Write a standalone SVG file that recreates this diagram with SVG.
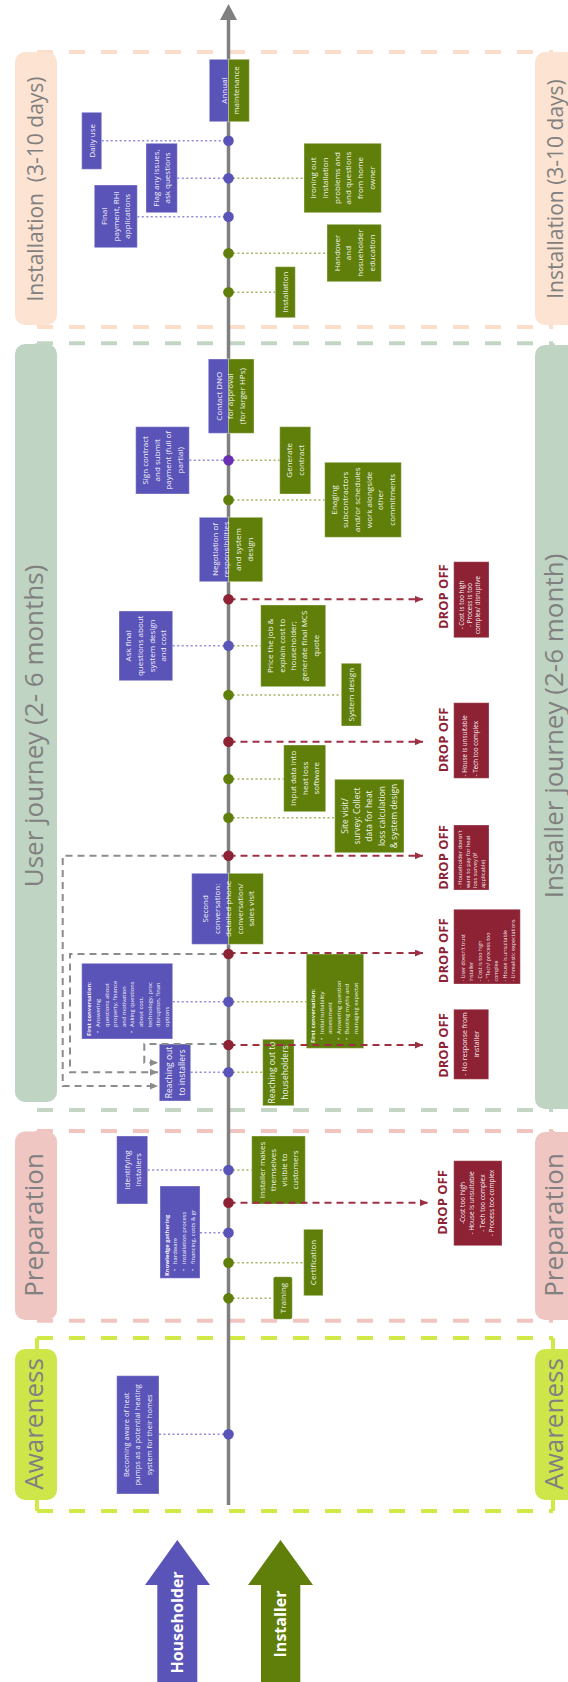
<svg xmlns="http://www.w3.org/2000/svg" width="568" height="1682" viewBox="0 0 568 1682">
<style>
.hh{fill:#5B54B8;stroke:#fff;stroke-opacity:.35;stroke-width:1}
.in{fill:#5F7F0A;stroke:#fff;stroke-opacity:.35;stroke-width:1}
.dr{fill:#8C2234;stroke:#fff;stroke-opacity:.3;stroke-width:1}
text{font-family:'Open Sans','Noto Sans','Liberation Sans',sans-serif}
.t{font-size:8px;fill:#fff;fill-opacity:.95;text-anchor:middle}
.t85{font-size:8.5px}
.s{font-size:5.8px;fill:#fff;fill-opacity:.95;text-anchor:start}
.b{font-weight:700}
.dt{fill:#fff;fill-opacity:.95}
.lab{font-size:26px;fill:#808080;text-anchor:middle}
.do{font-size:13px;font-weight:700;fill:#8C2234;text-anchor:middle}
.big{font-size:16px;font-weight:700;fill:#fff;text-anchor:middle}
.pd{fill:none;stroke:#8F8BDA;stroke-width:1.5;stroke-dasharray:2 2.5}
.gd{fill:none;stroke:#A3B763;stroke-width:1.5;stroke-dasharray:2 2.5}
.rd{fill:none;stroke:#9E3043;stroke-width:2;stroke-dasharray:7 5;marker-end:url(#ar)}
.gy{fill:none;stroke:#8C8C8C;stroke-width:2;stroke-dasharray:7 5;marker-end:url(#ag)}
.sd{fill:none;stroke-width:4;stroke-dasharray:16 16}
</style>
<defs>
<marker id="ar" viewBox="0 0 8 7" refX="8" refY="3.5" markerWidth="8" markerHeight="7" markerUnits="userSpaceOnUse" orient="auto"><path d="M0,0L8,3.5L0,7z" fill="#9E3043"/></marker>
<marker id="ag" viewBox="0 0 8 7" refX="8" refY="3.5" markerWidth="8" markerHeight="7" markerUnits="userSpaceOnUse" orient="auto"><path d="M0,0L8,3.5L0,7z" fill="#8C8C8C"/></marker>
</defs>
<rect width="568" height="1682" fill="#fff"/>

<g id="stages">
<g id="stage-installation">
<path class="sd" stroke="#FCDCCA" d="M37,52H553M37,327H553M37,52V327M553,52V327"/>
<rect x="15" y="52" width="42" height="273" rx="10" fill="#FDE3D2"/>
<rect x="535" y="52" width="42" height="273" rx="10" fill="#FDE3D2"/>
<text class="lab" style="font-size:21px;white-space:pre" transform="rotate(-90)" x="-189" y="43">Installation  (3-10 days)</text>
<text class="lab" style="font-size:21px" transform="rotate(-90)" x="-189" y="563">Installation (3-10 days)</text>
</g>
<g id="stage-journey">
<path class="sd" stroke="#C3D6C6" d="M37,343.3H553M37,1110H553M37,343.3V1110M553,343.3V1110"/>
<rect x="15" y="344" width="42" height="758" rx="10" fill="#BFD4C2"/>
<rect x="535" y="345" width="42" height="764" rx="10" fill="#BFD4C2"/>
<text class="lab" transform="rotate(-90)" x="-726" y="43">User journey (2- 6 months)</text>
<text class="lab" transform="rotate(-90)" x="-726" y="563">Installer journey (2-6 month)</text>
</g>
<g id="stage-preparation">
<path class="sd" stroke="#F2C4C0" d="M37,1131H553M37,1320.7H553M37,1131V1320.7M553,1131V1320.7"/>
<rect x="15" y="1131.5" width="42" height="188.5" rx="10" fill="#EFC6C2"/>
<rect x="535" y="1132" width="42" height="188" rx="10" fill="#EFC6C2"/>
<text class="lab" transform="rotate(-90)" x="-1225" y="43">Preparation</text>
<text class="lab" transform="rotate(-90)" x="-1225" y="563">Preparation</text>
</g>
<g id="stage-awareness">
<path class="sd" stroke="#D1E845" d="M37,1338H553M37,1511H553M37,1338V1511M553,1338V1511"/>
<rect x="15" y="1349" width="42" height="151" rx="10" fill="#CFE64A"/>
<rect x="535" y="1349" width="42" height="151" rx="10" fill="#CFE64A"/>
<text class="lab" transform="rotate(-90)" x="-1424" y="43">Awareness</text>
<text class="lab" transform="rotate(-90)" x="-1424" y="563">Awareness</text>
</g>
</g>

<g id="timeline">
<line x1="228.5" y1="19" x2="228.5" y2="1505" stroke="#808080" stroke-width="3.5"/>
<polygon points="228.5,4 237,20 220,20" fill="#808080"/>
</g>

<g id="nodes">
<g id="n-annual-maintenance">
<rect class="hh" x="209.3" y="59.3" width="19.2" height="62.4"/>
<rect class="in" x="228.5" y="59.3" width="20.8" height="62.4"/>
<text class="t" transform="rotate(-90)"><tspan x="-90.5" y="226.5">Annual</tspan><tspan x="-90.5" y="239">maintenance</tspan></text>
</g>
<g id="n-daily-use">
<rect class="hh" x="81.7" y="112.3" width="20" height="57"/>
<text class="t" transform="rotate(-90)"><tspan x="-140.8" y="94.5">Daily use</tspan></text>
</g>
<g id="n-flag-issues">
<rect class="hh" x="146" y="143.3" width="31.3" height="69.4"/>
<text class="t" transform="rotate(-90)"><tspan x="-178" y="158.6">Flag any issues,</tspan><tspan x="-178" y="170.3">ask questions</tspan></text>
</g>
<g id="n-final-payment">
<rect class="hh" x="94.3" y="185" width="43" height="62.7"/>
<text class="t" transform="rotate(-90)"><tspan x="-216.3" y="106.9">Final</tspan><tspan x="-216.3" y="118.6">payment, RHI</tspan><tspan x="-216.3" y="130.3">applications</tspan></text>
</g>
<g id="n-ironing-out">
<rect class="in" x="304" y="143.3" width="77.3" height="69.4"/>
<text class="t" transform="rotate(-90)"><tspan x="-178" y="316.3">Ironing out</tspan><tspan x="-178" y="328">installation</tspan><tspan x="-178" y="339.7">problems and</tspan><tspan x="-178" y="351.4">and questions</tspan><tspan x="-178" y="363.1">from home</tspan><tspan x="-178" y="374.8">owner</tspan></text>
</g>
<g id="n-handover">
<rect class="in" x="327" y="224.3" width="54.3" height="57.4"/>
<text class="t" transform="rotate(-90)"><tspan x="-253" y="339.5">Handover</tspan><tspan x="-253" y="351.2">and</tspan><tspan x="-253" y="362.9">hosueholder</tspan><tspan x="-253" y="374.6">education</tspan></text>
</g>
<g id="n-installation">
<rect class="in" x="275.3" y="266.7" width="20" height="51"/>
<text class="t" transform="rotate(-90)"><tspan x="-292.2" y="288.1">Installation</tspan></text>
</g>
<g id="n-contact-dno">
<rect class="hh" x="208.3" y="359" width="20.2" height="74.3"/>
<rect class="in" x="228.5" y="359" width="25.5" height="74.3"/>
<text class="t" transform="rotate(-90)"><tspan x="-396.2" y="221.5">Contact DNO</tspan><tspan x="-396.2" y="233.2">for approval</tspan><tspan x="-396.2" y="244.9">(for larger HPs)</tspan></text>
</g>
<g id="n-sign-contract">
<rect class="hh" x="135.7" y="426.7" width="53.6" height="67.3"/>
<text class="t" transform="rotate(-90)"><tspan x="-460.3" y="147.8">Sign contract</tspan><tspan x="-460.3" y="159.5">and submit</tspan><tspan x="-460.3" y="171.2">payment (full of</tspan><tspan x="-460.3" y="182.9">partial)</tspan></text>
</g>
<g id="n-generate-contract">
<rect class="in" x="279.7" y="426.7" width="31" height="67.3"/>
<text class="t" transform="rotate(-90)"><tspan x="-460.3" y="292.2">Generate</tspan><tspan x="-460.3" y="303.9">contract</tspan></text>
</g>
<g id="n-engaging">
<rect class="in" x="324.7" y="462.3" width="76.6" height="75"/>
<text class="t" transform="rotate(-90)"><tspan x="-499.8" y="336.6">Enaging</tspan><tspan x="-499.8" y="348.3">subcontractors</tspan><tspan x="-499.8" y="360">and/or schedules</tspan><tspan x="-499.8" y="371.7">work alongside</tspan><tspan x="-499.8" y="383.4">other</tspan><tspan x="-499.8" y="395.1">commitments</tspan></text>
</g>
<g id="n-negotiation">
<rect class="hh" x="199.3" y="517.3" width="29.2" height="64.4"/>
<rect class="in" x="228.5" y="517.3" width="34.2" height="64.4"/>
<text class="t" transform="rotate(-90)"><tspan x="-549.5" y="217.5">Negotiation of</tspan><tspan x="-549.5" y="229.3">responsibilities</tspan><tspan x="-549.5" y="241.1">and system</tspan><tspan x="-549.5" y="252.9">design</tspan></text>
</g>
<g id="n-ask-final">
<rect class="hh" x="119" y="611" width="53.7" height="69.7"/>
<text class="t" transform="rotate(-90)"><tspan x="-645.8" y="131.1">Ask final</tspan><tspan x="-645.8" y="142.8">questions about</tspan><tspan x="-645.8" y="154.5">system design</tspan><tspan x="-645.8" y="166.2">and cost</tspan></text>
</g>
<g id="n-price-job">
<rect class="in" x="260.7" y="605" width="65" height="81.7"/>
<text class="t" transform="rotate(-90)"><tspan x="-645.8" y="273.4">Price the job &amp;</tspan><tspan x="-645.8" y="284.7">explain cost to</tspan><tspan x="-645.8" y="296">householder;</tspan><tspan x="-645.8" y="307.3">generate final MCS</tspan><tspan x="-645.8" y="318.6">quote</tspan></text>
</g>
<g id="n-system-design">
<rect class="in" x="341.3" y="663.3" width="20" height="62.7"/>
<text class="t" transform="rotate(-90)"><tspan x="-694.7" y="354.1">System design</tspan></text>
</g>
<g id="n-input-data">
<rect class="in" x="283.7" y="745" width="42" height="66.7"/>
<text class="t" transform="rotate(-90)"><tspan x="-778.3" y="295.8">Input data into</tspan><tspan x="-778.3" y="307.5">heat loss</tspan><tspan x="-778.3" y="319.2">software</tspan></text>
</g>
<g id="n-site-visit">
<rect class="in" x="334.7" y="779.3" width="69.3" height="73.4"/>
<text class="t t85" transform="rotate(-90)"><tspan x="-816" y="347.7">Site visit/</tspan><tspan x="-816" y="360">survey: Collect</tspan><tspan x="-816" y="372.3">data for heat</tspan><tspan x="-816" y="384.6">loss calculation</tspan><tspan x="-816" y="396.9">&amp; system design</tspan></text>
</g>
<g id="n-second-conversation">
<rect class="hh" x="191.7" y="873.3" width="36.8" height="71"/>
<rect class="in" x="228.5" y="873.3" width="34.8" height="71"/>
<text class="t" transform="rotate(-90)"><tspan x="-908.8" y="207.8">Second</tspan><tspan x="-908.8" y="219.5">conversation:</tspan><tspan x="-908.8" y="231.1">detailed phone</tspan><tspan x="-908.8" y="242.6">conversation/</tspan><tspan x="-908.8" y="254.3">sales visit</tspan></text>
</g>
<g id="n-first-conversation-householder">
<rect class="hh" x="81.7" y="963.3" width="91" height="75.7"/>
<text class="s" transform="rotate(-90)"><tspan class="b" x="-1036" y="91.3">First conversation:</tspan><tspan x="-1033" y="99.9">•</tspan><tspan x="-1027" y="99.9">Answering</tspan><tspan x="-1027" y="108.5">questions about</tspan><tspan x="-1027" y="117.1">property, finance</tspan><tspan x="-1027" y="125.7">and motivation</tspan><tspan x="-1033" y="134.3">•</tspan><tspan x="-1027" y="134.3">Asking questions</tspan><tspan x="-1027" y="142.9">about cost,</tspan><tspan x="-1027" y="151.5">technology, proc</tspan><tspan x="-1027" y="160.1">disruption, finan</tspan><tspan x="-1027" y="168.7">options</tspan></text>
</g>
<g id="n-first-conversation-installer">
<rect class="in" x="306.3" y="954" width="57.4" height="94.3"/>
<text class="s" transform="rotate(-90)"><tspan class="b" x="-1043" y="315">First conversation:</tspan><tspan x="-1040" y="323.6">•</tspan><tspan x="-1034" y="323.6">Initial suitability</tspan><tspan x="-1034" y="332.2">assessment</tspan><tspan x="-1040" y="340.8">•</tspan><tspan x="-1034" y="340.8">Answering question</tspan><tspan x="-1040" y="349.4">•</tspan><tspan x="-1034" y="349.4">Busting myths and</tspan><tspan x="-1034" y="358">managing expectat</tspan></text>
</g>
<g id="n-reaching-installers">
<rect class="hh" x="159.3" y="1044" width="31.4" height="57"/>
<text class="t t85" transform="rotate(-90)"><tspan x="-1072.5" y="171.5">Reaching out</tspan><tspan x="-1072.5" y="184.5">to installers</tspan></text>
</g>
<g id="n-reaching-householders">
<rect class="in" x="262.7" y="1039.3" width="31.3" height="66.4"/>
<text class="t t85" transform="rotate(-90)"><tspan x="-1072.5" y="274.8">Reaching out to</tspan><tspan x="-1072.5" y="287.8">householders</tspan></text>
</g>
<g id="n-identifying-installers">
<rect class="hh" x="116.7" y="1136" width="31" height="68"/>
<text class="t" transform="rotate(-90)"><tspan x="-1170" y="129.5">Identifying</tspan><tspan x="-1170" y="140.5">installers</tspan></text>
</g>
<g id="n-installer-visible">
<rect class="in" x="251.7" y="1136" width="53.6" height="68"/>
<text class="t" transform="rotate(-90)"><tspan x="-1170" y="264.5">Installer makes</tspan><tspan x="-1170" y="275.7">themselves</tspan><tspan x="-1170" y="286.9">visible to</tspan><tspan x="-1170" y="298.1">customers</tspan></text>
</g>
<g id="n-knowledge-gathering">
<rect class="hh" x="160" y="1186" width="40" height="92.3"/>
<text class="s" transform="rotate(-90)"><tspan class="b" x="-1276" y="168.7">Knowledge gathering</tspan><tspan x="-1271" y="177.3">•</tspan><tspan x="-1264" y="177.3">hardware</tspan><tspan x="-1271" y="185.9">•</tspan><tspan x="-1264" y="185.9">installation process</tspan><tspan x="-1271" y="194.5">•</tspan><tspan x="-1264" y="194.5">financing, costs &amp; gr</tspan></text>
</g>
<g id="n-certification">
<rect class="in" x="303.7" y="1229.3" width="19.3" height="66.4"/>
<text class="t" transform="rotate(-90)"><tspan x="-1262.5" y="316.1">Certification</tspan></text>
</g>
<g id="n-training">
<rect class="in" x="273.3" y="1276.7" width="19" height="42.6" rx="2"/>
<text class="t" transform="rotate(-90)"><tspan x="-1298" y="285.6">Training</tspan></text>
</g>
<g id="n-becoming-aware">
<rect class="hh" x="116.7" y="1375.7" width="42.3" height="118.3"/>
<text class="t" style="font-size:7.5px" transform="rotate(-90)"><tspan x="-1434.8" y="128.7">Becoming aware of heat</tspan><tspan x="-1434.8" y="140.4">pumps as a potential heating</tspan><tspan x="-1434.8" y="152.1">system for their homes</tspan></text>
</g>

<g id="d1">
<text class="do" transform="rotate(-90)" x="-596.7" y="448">DROP OFF</text>
<rect class="dr" x="453.7" y="561.7" width="35.3" height="76"/>
<text class="t" style="font-size:6.3px" transform="rotate(-90)"><tspan x="-605" y="463.5">- Cost is too high</tspan><tspan x="-605" y="471.8">- Process is too</tspan><tspan x="-605" y="480.1">complex/ disruptive</tspan></text>
</g>
<g id="d2">
<text class="do" transform="rotate(-90)" x="-740" y="448">DROP OFF</text>
<rect class="dr" x="453.7" y="702.7" width="35.3" height="75.6"/>
<text class="s" style="font-size:6.3px" transform="rotate(-90)"><tspan x="-776.5" y="466.7">- House is unsuitable</tspan><tspan x="-776.5" y="478.3">- Tech too complex</tspan></text>
</g>
<g id="d3">
<text class="do" transform="rotate(-90)" x="-857.5" y="448">DROP OFF</text>
<rect class="dr" x="453.7" y="825" width="35.3" height="65"/>
<text class="s" style="font-size:5.6px" transform="rotate(-90)"><tspan x="-888" y="461.7">- Householder doesn't</tspan><tspan x="-888" y="469.5">want to pay for heat</tspan><tspan x="-888" y="477.3">loss survey (if</tspan><tspan x="-888" y="485">applicable)</tspan></text>
</g>
<g id="d4">
<text class="do" transform="rotate(-90)" x="-950.8" y="448">DROP OFF</text>
<rect class="dr" x="453.7" y="909.3" width="66.6" height="74.7"/>
<text class="s" style="font-size:5.3px" transform="rotate(-90)"><tspan x="-981.5" y="465">- User doesn't trust</tspan><tspan x="-981.5" y="473.3">installer</tspan><tspan x="-981.5" y="481.6">- Cost is too high</tspan><tspan x="-981.5" y="489.9">- "Tech/ process too</tspan><tspan x="-981.5" y="498.2">complex</tspan><tspan x="-981.5" y="506.5">- House is unsuitable</tspan><tspan x="-981.5" y="514.8">- Unrealistic expectations</tspan></text>
</g>
<g id="d5">
<text class="do" transform="rotate(-90)" x="-1045.5" y="448">DROP OFF</text>
<rect class="dr" x="453.7" y="1009.3" width="35" height="70"/>
<text class="t" style="font-size:7px" transform="rotate(-90)"><tspan x="-1044" y="467">- No response from</tspan><tspan x="-1044" y="478.6">installer</tspan></text>
</g>
<g id="d6">
<text class="do" transform="rotate(-90)" x="-1202.5" y="447">DROP OFF</text>
<rect class="dr" x="453.7" y="1160.7" width="48.3" height="85"/>
<text class="t" style="font-size:6.5px" transform="rotate(-90)"><tspan x="-1203" y="465.2">-Cost too high</tspan><tspan x="-1203" y="474.2">- House is unsuitable</tspan><tspan x="-1203" y="485.2">- Tech too complex</tspan><tspan x="-1203" y="494.2">- Process too complex</tspan></text>
</g>

<g id="n-householder-arrow">
<polygon points="177.3,1540 210,1585 197.3,1585 197.3,1682 157.3,1682 157.3,1585 145,1585" fill="#5B54B8"/>
<text class="big" transform="rotate(-90)" x="-1622.5" y="183">Householder</text>
</g>
<g id="n-installer-arrow">
<polygon points="280.5,1540 313,1585 300.3,1585 300.3,1682 261,1682 261,1585 248,1585" fill="#5F7F0A"/>
<text class="big" transform="rotate(-90)" x="-1624" y="286">Installer</text>
</g>
</g>

<g id="connectors">
<path class="pd" d="M101.7,140.7H228.5M177.3,178.3H228.5M137.3,216.7H228.5M189.3,460.3H228.5M172.7,645.7H228.5M172.7,1001.7H228.5M190.7,1072.3H228.5M147.7,1170H228.5M200,1232.7H228.5M159,1434.3H228.5"/>
<path class="gd" d="M228.5,178.3H304M228.5,253.3H327M228.5,292.3H275.3M228.5,460.3H279.7M228.5,500H324.7M228.5,645.7H260.7M228.5,695H341.3M228.5,779H283.7M228.5,817.7H334.7M228.5,1001.7H306.3M228.5,1072.3H262.7M228.5,1170H251.7M228.5,1262.7H303.7M228.5,1298.3H273.3"/>
<path class="rd" d="M228.5,599.3H423"/>
<path class="rd" d="M228.5,741.7H423"/>
<path class="rd" d="M228.5,855.7H423"/>
<path class="rd" d="M228.5,953H423"/>
<path class="rd" d="M228.5,1045H423"/>
<path class="rd" d="M228.5,1202.7H428"/>
<path class="gy" d="M228.5,855.7H62.7V1086H158"/>
<path class="gy" d="M228.5,954H70V1072.3H158"/>
<path class="gy" d="M228.5,1044H144.3V1062.7H158"/>
<g id="dots">
<circle cx="228.5" cy="140.7" r="5.3" fill="#5B54B8"/>
<circle cx="228.5" cy="178.3" r="5.3" fill="#5B54B8"/>
<circle cx="228.5" cy="216.7" r="5.3" fill="#5B54B8"/>
<circle cx="228.5" cy="253.3" r="5.3" fill="#5F7F0A"/>
<circle cx="228.5" cy="292.3" r="5.3" fill="#5F7F0A"/>
<circle cx="228.5" cy="460.3" r="5.3" fill="#6A2FB2"/>
<circle cx="228.5" cy="500" r="5.3" fill="#5F7F0A"/>
<circle cx="228.5" cy="599.3" r="5.3" fill="#8C2234"/>
<circle cx="228.5" cy="645.7" r="5.3" fill="#5B54B8"/>
<circle cx="228.5" cy="695" r="5.3" fill="#5F7F0A"/>
<circle cx="228.5" cy="741.7" r="5.3" fill="#8C2234"/>
<circle cx="228.5" cy="779" r="5.3" fill="#5F7F0A"/>
<circle cx="228.5" cy="817.7" r="5.3" fill="#5F7F0A"/>
<circle cx="228.5" cy="855.7" r="5.3" fill="#8C2234"/>
<circle cx="228.5" cy="954" r="5.3" fill="#8C2234"/>
<circle cx="228.5" cy="1001.7" r="5.3" fill="#5B54B8"/>
<circle cx="228.5" cy="1045" r="5.3" fill="#8C2234"/>
<circle cx="228.5" cy="1072.3" r="5.3" fill="#5B54B8"/>
<circle cx="228.5" cy="1170" r="5.3" fill="#5B54B8"/>
<circle cx="228.5" cy="1202.7" r="5.3" fill="#8C2234"/>
<circle cx="228.5" cy="1232.7" r="5.3" fill="#5B54B8"/>
<circle cx="228.5" cy="1262.7" r="5.3" fill="#5F7F0A"/>
<circle cx="228.5" cy="1298.3" r="5.3" fill="#5F7F0A"/>
<circle cx="228.5" cy="1434.3" r="5.3" fill="#5B54B8"/>
</g>
</g>
</svg>
